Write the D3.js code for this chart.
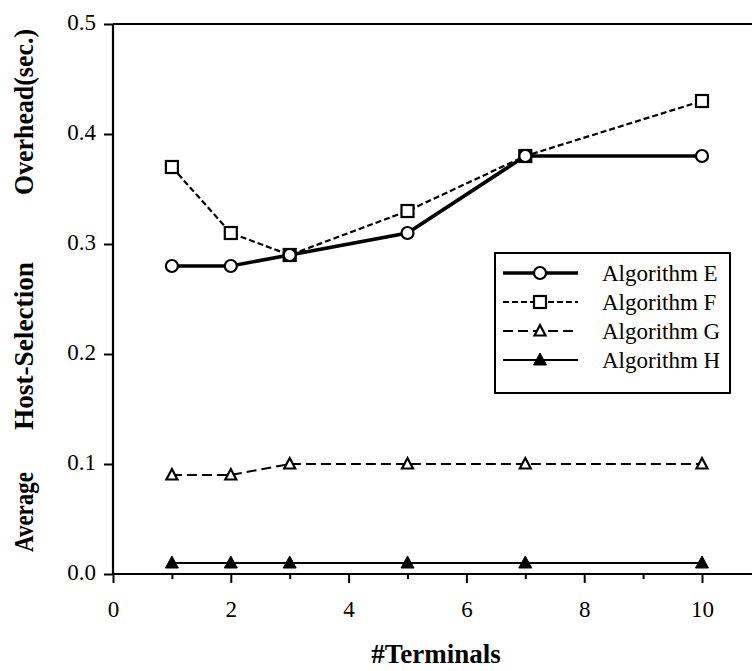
<!DOCTYPE html>
<html>
<head>
<meta charset="utf-8">
<script src="https://cdn.jsdelivr.net/npm/d3@7"></script>
<style>
  html, body { margin: 0; padding: 0; background: #fff; }
  svg { display: block; }
</style>
</head>
<body>
<svg id="chart" width="752" height="671"></svg>
<script>
// Number of terminals measured
const terminals = [1, 2, 3, 5, 7, 10];

// Average host-selection overhead (sec.) for each algorithm
const algE = [0.28, 0.28, 0.29, 0.31, 0.38, 0.38];
const algF = [0.37, 0.31, 0.29, 0.33, 0.38, 0.43];
const algG = [0.09, 0.09, 0.10, 0.10, 0.10, 0.10];
const algH = [0.01, 0.01, 0.01, 0.01, 0.01, 0.01];

const seriesNames = ["Algorithm E", "Algorithm F", "Algorithm G", "Algorithm H"];

const xTickValues = [0, 2, 4, 6, 8, 10];
const xMinorTicks = [1, 3, 5, 7, 9];
const yTickValues = [0.0, 0.1, 0.2, 0.3, 0.4, 0.5];

const xTitle = "#Terminals";
const yTitleWords = ["Average", "Host-Selection", "Overhead(sec.)"];

const FONT = "'Liberation Serif', 'Times New Roman', serif";

const svg = d3.select("#chart").attr("font-family", FONT);
const W = 752;

const x = d3.scaleLinear().domain([0, 10]).range([113, 702]);
const y = d3.scaleLinear().domain([0, 0.5]).range([574, 24]);

// styles per series
const styles = [
  { data: algE, width: 3.6, dash: null,   marker: "circle" },
  { data: algF, width: 2.2, dash: "6,3",  marker: "square" },
  { data: algG, width: 2,   dash: "10,5", marker: "triOpen" },
  { data: algH, width: 2,   dash: null,   marker: "triFilled" }
];

// frame: left axis, bottom axis, top rule
const frame = svg.append("g").attr("stroke", "#000").attr("stroke-width", 2.2);
frame.append("line").attr("x1", x(0)).attr("x2", x(0)).attr("y1", y(0.5)).attr("y2", y(0));
frame.append("line").attr("x1", x(0)).attr("x2", W).attr("y1", y(0)).attr("y2", y(0));
frame.append("line").attr("x1", x(0)).attr("x2", W).attr("y1", y(0.5)).attr("y2", y(0.5));

// y axis
const yAxis = svg.append("g")
  .attr("transform", `translate(${x(0)},0)`)
  .call(d3.axisLeft(y).tickValues(yTickValues).tickFormat(d3.format(".1f")).tickSize(9).tickPadding(8));
yAxis.attr("font-family", FONT).attr("font-size", 23);
yAxis.select(".domain").remove();
yAxis.selectAll("line").attr("stroke-width", 2);
yAxis.selectAll("text").attr("dy", "0.22em");

// x axis (major + minor ticks)
const xAxis = svg.append("g")
  .attr("transform", `translate(0,${y(0)})`)
  .call(d3.axisBottom(x).tickValues(xTickValues).tickFormat(d3.format("d")).tickSize(9).tickPadding(18));
xAxis.attr("font-family", FONT).attr("font-size", 23);
xAxis.select(".domain").remove();
xAxis.selectAll("line").attr("stroke-width", 2);

const xMinor = svg.append("g")
  .attr("transform", `translate(0,${y(0)})`)
  .call(d3.axisBottom(x).tickValues(xMinorTicks).tickFormat("").tickSize(5));
xMinor.select(".domain").remove();
xMinor.selectAll("line").attr("stroke-width", 2);

// axis titles
svg.append("text")
  .attr("x", 436).attr("y", 663)
  .attr("text-anchor", "middle")
  .attr("font-size", 27).attr("font-weight", "bold")
  .text(xTitle);

const yWordCenters = [512, 346, 112];
const yWordLengths = [80, 168, 166];
yTitleWords.forEach((w, i) => {
  svg.append("text")
    .attr("transform", `translate(33,${yWordCenters[i]}) rotate(-90)`)
    .attr("text-anchor", "middle")
    .attr("font-size", 28).attr("font-weight", "bold")
    .attr("textLength", yWordLengths[i])
    .attr("lengthAdjust", "spacingAndGlyphs")
    .text(w);
});

// marker drawing
function drawMarker(g, type, cx, cy) {
  if (type === "circle") {
    g.append("circle").attr("cx", cx).attr("cy", cy).attr("r", 6)
      .attr("fill", "#fff").attr("stroke", "#000").attr("stroke-width", 2.2);
  } else if (type === "square") {
    g.append("rect").attr("x", cx - 6).attr("y", cy - 6).attr("width", 12).attr("height", 12)
      .attr("fill", "#fff").attr("stroke", "#000").attr("stroke-width", 2.2);
  } else if (type === "triOpen") {
    g.append("path")
      .attr("d", `M${cx},${cy - 6}L${cx + 5.5},${cy + 4.5}L${cx - 5.5},${cy + 4.5}Z`)
      .attr("fill", "#fff").attr("stroke", "#000").attr("stroke-width", 2.2);
  } else {
    g.append("path")
      .attr("d", `M${cx},${cy - 7}L${cx + 6.5},${cy + 5}L${cx - 6.5},${cy + 5}Z`)
      .attr("fill", "#000").attr("stroke", "#000").attr("stroke-width", 1);
  }
}

// series lines and markers (H first so E sits on top)
const line = d3.line().x((d, i) => x(terminals[i])).y(d => y(d));
[3, 2, 1, 0].forEach(k => {
  const s = styles[k];
  const g = svg.append("g");
  g.append("path")
    .datum(s.data)
    .attr("d", line)
    .attr("fill", "none")
    .attr("stroke", "#000")
    .attr("stroke-width", s.width)
    .attr("stroke-dasharray", s.dash);
  s.data.forEach((v, i) => drawMarker(g, s.marker, x(terminals[i]), y(v)));
});

// legend
const lg = svg.append("g");
lg.append("rect").attr("x", 495).attr("y", 253).attr("width", 235).attr("height", 140)
  .attr("fill", "#fff").attr("stroke", "#000").attr("stroke-width", 2);
const rowY = [273, 302, 331, 360];
seriesNames.forEach((name, k) => {
  const s = styles[k];
  const ry = rowY[k];
  lg.append("line").attr("x1", 503).attr("x2", 578).attr("y1", ry).attr("y2", ry)
    .attr("stroke", "#000").attr("stroke-width", s.width).attr("stroke-dasharray", s.dash);
  drawMarker(lg, s.marker, 540, ry);
  lg.append("text").attr("x", 602).attr("y", ry).attr("dy", "0.35em")
    .attr("font-size", 23).text(name);
});
</script>
</body>
</html>
